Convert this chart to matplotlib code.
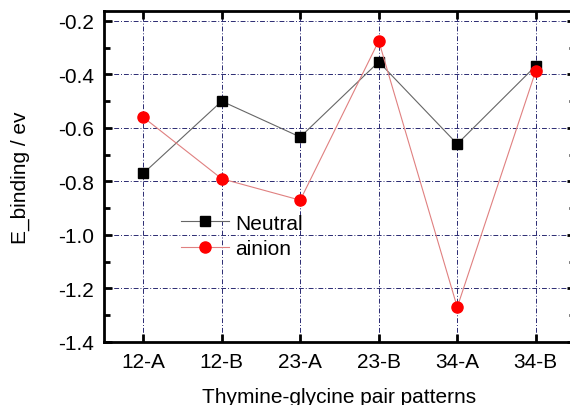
import numpy as np
from matplotlib import pyplot as plt
from matplotlib.ticker import MultipleLocator

plt.rcParams['font.family'] = ['Liberation Sans', 'DejaVu Sans']

patterns = ['12-A', '12-B', '23-A', '23-B', '34-A', '34-B']
neutral = [-0.77, -0.50, -0.634, -0.353, -0.66, -0.368]
anion = [-0.56, -0.79, -0.87, -0.275, -1.27, -0.387]
yticks = [-1.4, -1.2, -1.0, -0.8, -0.6, -0.4, -0.2]


def main():
    fig = plt.figure(figsize=(5.7, 4.06), dpi=100)
    ax = fig.add_axes([104 / 570, 63 / 406, 471 / 570, 331 / 406])
    x = np.arange(len(patterns))

    ax.plot(x, neutral, color='#666666', lw=0.8, marker='s', ms=7,
            mfc='black', mec='black', label='Neutral', zorder=3)
    ax.plot(x, anion, color='#e08080', lw=0.8, marker='o', ms=8,
            mfc='red', mec='red', label='ainion', zorder=3)

    ax.set_xlim(-0.5, 5.5)
    ax.set_ylim(-1.4, -0.163)
    ax.set_xticks(x)
    ax.set_xticklabels(patterns)
    ax.yaxis.set_minor_locator(MultipleLocator(0.1))
    ax.set_yticks(yticks)
    ax.set_yticklabels(['%.1f' % v for v in yticks])

    ax.grid(True, color='#2a2a72', linestyle=(0, (5, 2, 1, 2)), lw=0.7)
    ax.tick_params(which='both', direction='in', top=True, right=True,
                   labelsize=15, width=2, pad=7)
    ax.tick_params(which='major', length=6)
    ax.tick_params(which='minor', length=4)
    for s in ax.spines.values():
        s.set_linewidth(2)

    ax.set_xlabel('Thymine-glycine pair patterns', fontsize=15, labelpad=12)
    ax.set_ylabel('E_binding / ev', fontsize=15, labelpad=20)
    ax.legend(loc='upper left', bbox_to_anchor=(0.145, 0.413), frameon=False,
              fontsize=15, handlelength=2.3, handletextpad=0.3,
              labelspacing=0.3, borderaxespad=0)

    fig.savefig('out.png')


if __name__ == '__main__':
    main()
